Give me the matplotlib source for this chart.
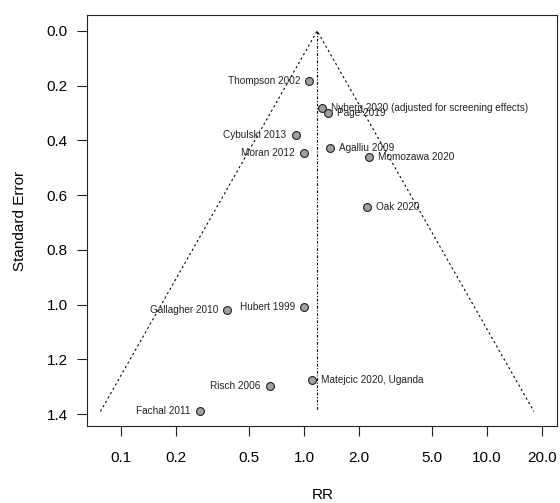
import numpy as np
import matplotlib.pyplot as plt

plt.rcParams['font.family'] = ['Liberation Sans', 'DejaVu Sans']

# study estimates (risk ratio) and their standard errors
studies = ['Thompson 2002', 'Nyberg 2020 (adjusted for screening effects)', 'Page 2019',
           'Cybulski 2013', 'Moran 2012', 'Agalliu 2009', 'Momozawa 2020', 'Oak 2020',
           'Gallagher 2010', 'Hubert 1999', 'Matejcic 2020, Uganda', 'Risch 2006', 'Fachal 2011']
rr = [1.07, 1.26, 1.36, 0.90, 0.995, 1.39, 2.27, 2.20, 0.38, 1.00, 1.11, 0.65, 0.27]
se = [0.182, 0.280, 0.300, 0.382, 0.445, 0.426, 0.460, 0.645, 1.019, 1.008, 1.275, 1.296, 1.39]
# which side of the point each label goes on
side = ['L', 'R', 'R', 'L', 'L', 'R', 'R', 'R', 'L', 'L', 'R', 'L', 'L']

pooled = 1.18  # summary estimate at the tip of the funnel

tick_vals = [0.1, 0.2, 0.5, 1.0, 2.0, 5.0, 10.0, 20.0]
tick_labs = ['0.1', '0.2', '0.5', '1.0', '2.0', '5.0', '10.0', '20.0']
yticks = [0.0, 0.2, 0.4, 0.6, 0.8, 1.0, 1.2, 1.4]

fig = plt.figure(figsize=(5.6, 5.03), dpi=100)
ax = fig.add_axes([0.1559, 0.1537, 0.9952 - 0.1559, 0.9696 - 0.1537])

se_max = max(se)
lo = pooled * np.exp(-1.96 * se_max)
hi = pooled * np.exp(1.96 * se_max)

# pseudo 95% region and reference line
ax.plot([lo, pooled, hi], [se_max, 0, se_max], color='black', lw=0.8, ls=(0, (2, 2.5)))
ax.plot([pooled, pooled], [0, se_max], color='black', lw=0.8, ls=(0, (2.5, 1.5, 1, 1.5)))

ax.scatter(rr, se, s=32, facecolor='#a0a0a0', edgecolor='#222222', linewidth=0.8, zorder=3)

for name, x, y, s in zip(studies, rr, se, side):
    if s == 'L':
        ax.annotate(name, (x, y), xytext=(-6.5, 0), textcoords='offset points',
                    ha='right', va='center', fontsize=7.2, color='#222222')
    else:
        ax.annotate(name, (x, y), xytext=(6.5, 0), textcoords='offset points',
                    ha='left', va='center', fontsize=7.2, color='#222222')

ax.set_xscale('log')
ax.set_xlim(10 ** -1.183, 10 ** 1.383)
ax.set_ylim(1.442, -0.057)
ax.set_xticks(tick_vals)
ax.set_xticklabels(tick_labs)
ax.xaxis.set_minor_locator(plt.NullLocator())
ax.set_yticks(yticks)
ax.set_yticklabels(['%.1f' % v for v in yticks])

ax.tick_params(axis='both', length=7, width=0.8, labelsize=11, color='#222222')
ax.tick_params(axis='x', pad=11)
ax.tick_params(axis='y', pad=7)
for sp in ax.spines.values():
    sp.set_linewidth(0.8)
    sp.set_color('#222222')

ax.set_xlabel('RR', fontsize=11, labelpad=17)
ax.set_ylabel('Standard Error', fontsize=11, labelpad=14)

fig.savefig('out.png', dpi=100)
